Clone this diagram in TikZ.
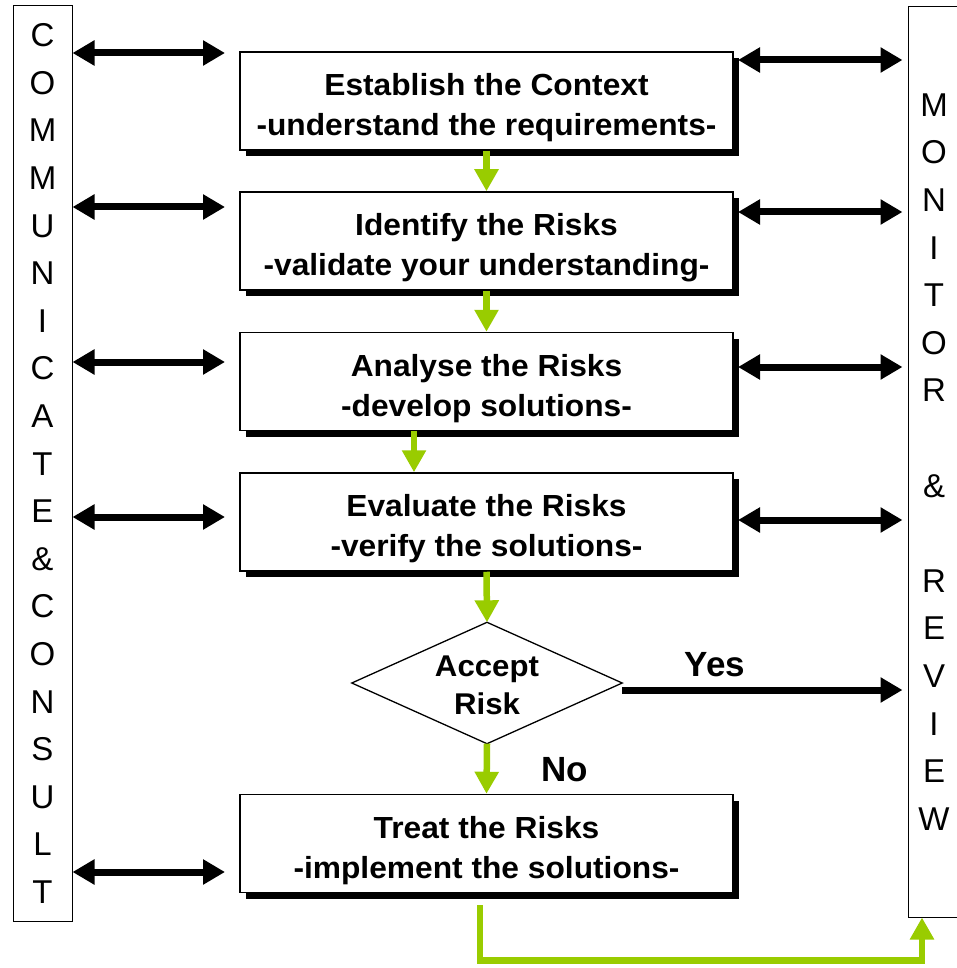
\documentclass[tikz,border=0pt]{standalone}
\usepackage{fontspec}
\setmainfont{Liberation Sans}
\newfontfamily\boxfont{Liberation Sans}[FakeStretch=1.04]
\usetikzlibrary{arrows.meta,shadows}
\definecolor{lime}{HTML}{99CC00}
\newcommand\topstrut{\rule{0pt}{36pt}}
\begin{document}
\begin{tikzpicture}[x=1pt,y=-1pt,
  stepbox/.style={draw, line width=1.5pt, fill=white, minimum width=493pt, minimum height=98pt,
    inner sep=0pt, align=center, font=\boxfont\bfseries\fontsize{30.5}{40}\selectfont,
    drop shadow={shadow xshift=6pt, shadow yshift=-6pt, opacity=1, fill=black}},
  bar/.style={draw, line width=1pt, fill=white, inner sep=0pt, align=center,
    font=\fontsize{33}{47.6}\selectfont},
  link/.style={line width=7pt, {Triangle[length=22pt,width=24pt]}-{Triangle[length=22pt,width=24pt]}},
  yesarrow/.style={line width=7pt, -{Triangle[length=22pt,width=24pt]}},
  flow/.style={draw=lime, line width=6.5pt, -{Triangle[length=22pt,width=23pt]}},
  lab/.style={font=\bfseries\fontsize{35}{40}\selectfont, inner sep=0pt},
  dtext/.style={minimum width=270pt, minimum height=121pt, inner sep=0pt, align=center,
    font=\boxfont\bfseries\fontsize{30}{38}\selectfont}
]
\useasboundingbox (0,0) rectangle (956,968);
\fill[white] (0,0) rectangle (956,968);

% side bars
\node[bar, minimum width=59pt, minimum height=915pt] (lbar) at (42.5,463.5)
  {C\\O\\M\\M\\U\\N\\I\\C\\A\\T\\E\\\&\\C\\O\\N\\S\\U\\L\\T};
\node[bar, minimum width=52pt, minimum height=910pt] (rbar) at (934,462)
  {M\\O\\N\\I\\T\\O\\R\\\mbox{}\\\&\\\mbox{}\\R\\E\\V\\I\\E\\W};

% process boxes
\node[stepbox] (b1) at (486.5,101)   {\topstrut Establish the Context\\-understand the requirements-};
\node[stepbox] (b2) at (486.5,241)   {\topstrut Identify the Risks\\-validate your understanding-};
\node[stepbox] (b3) at (486.5,381.5) {\topstrut Analyse the Risks\\-develop solutions-};
\node[stepbox] (b4) at (486.5,522)   {\topstrut Evaluate the Risks\\-verify the solutions-};
\node[stepbox] (b5) at (486.5,843.5) {\topstrut Treat the Risks\\-implement the solutions-};

% decision
\node[dtext] (dia) at (487,683) {\rule{0pt}{26pt}Accept\\Risk};
\draw[line width=1.3pt] (dia.west) -- (dia.north) -- (dia.east) -- (dia.south) -- cycle;

% left links
\coordinate (l1) at (225,53);
\coordinate (l2) at (225,207);
\coordinate (l3) at (225,362);
\coordinate (l4) at (225,517);
\coordinate (l5) at (225,872);
\foreach \c in {l1,l2,l3,l4,l5}
  \draw[link] (lbar.east |- \c) -- (\c);

% right links
\coordinate (r1) at (738,60);
\coordinate (r2) at (738,212);
\coordinate (r3) at (738,367);
\coordinate (r4) at (738,520);
\foreach \c in {r1,r2,r3,r4}
  \draw[link, shorten >=5pt] (\c) -- (rbar.west |- \c);

% flow arrows
\draw[flow] (b1.south) -- (b2.north);
\draw[flow] (b2.south) -- (b3.north);
\draw[flow] ([xshift=-72.5pt]b3.south) -- ([xshift=-72.5pt]b4.north);
\draw[flow] (b4.south) -- (dia.north);
\draw[flow] (dia.south) -- (b5.north);
\draw[flow] ([xshift=-6.5pt,yshift=-12pt]b5.south) -- ++(0,55) -| ([xshift=-12pt]rbar.south);

% yes arrow
\coordinate (ys) at ([yshift=-7pt]dia.east);
\draw[yesarrow, shorten >=5pt] (ys) -- (rbar.west |- ys);
\node[lab] (yes) at (715,665) {Yes};
\node[lab] (no) at (565,770) {No};
\end{tikzpicture}
\end{document}
